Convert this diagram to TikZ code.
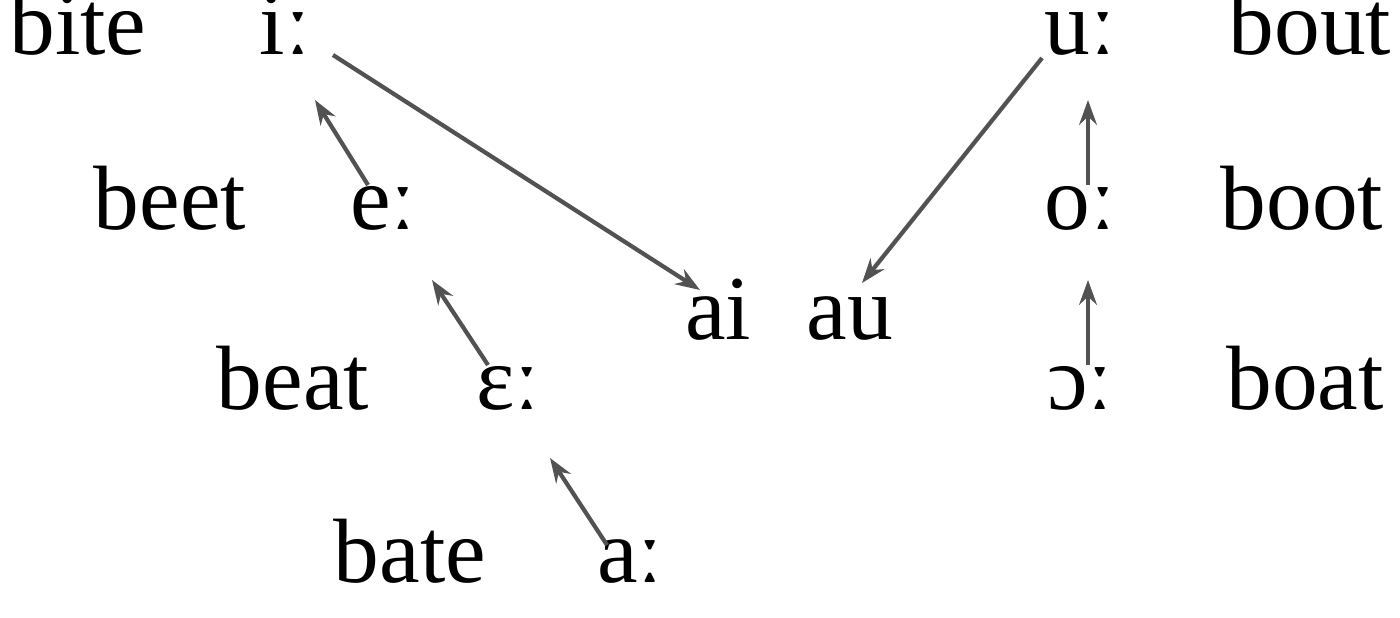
\documentclass[tikz,border=0pt]{standalone}
\usepackage{fontspec}
\setmainfont{Liberation Serif}
\usetikzlibrary{arrows.meta}
\begin{document}
\begin{tikzpicture}[x=0.02cm,y=-0.02cm,
  word/.style={font=\fontsize{52}{56}\selectfont, inner sep=2pt, text height=0.55em, text depth=0em},
  vshift/.style={draw=black!68, line width=2.4pt, -{Stealth[length=14pt,width=10pt]}, shorten >=6pt, shorten <=6pt}]
\useasboundingbox (0,0) rectangle (1400,618);
\node[word] (bite) at (78,50) {bite};
\node[word] (ii) at (285,50) {iː};
\node[word] (beet) at (170,225) {beet};
\node[word] (ee) at (383,225) {eː};
\node[word] (beat) at (293,405) {beat};
\node[word] (eps) at (508,405) {ɛː};
\node[word] (bate) at (410,578) {bate};
\node[word] (aa) at (630,578) {aː};
\node[word] (ai) at (718,335) {ai};
\node[word] (au) at (850,335) {au};
\node[word] (uu) at (1080,50) {uː};
\node[word] (bout) at (1310,50) {bout};
\node[word] (oo) at (1080,225) {oː};
\node[word] (boot) at (1302,225) {boot};
\node[word] (oc) at (1080,405) {ɔː};
\node[word] (boat) at (1305,405) {boat};
\coordinate (o1) at (1088,185);
\coordinate (u1) at (1088,100);
\coordinate (o2) at (1088,365);
\coordinate (u2) at (1088,280);
\coordinate (a1) at (607,545);
\coordinate (e1) at (550,458);
\coordinate (e2) at (488,365);
\coordinate (e3) at (432,280);
\coordinate (e4) at (368,185);
\coordinate (i1) at (315,100);
\coordinate (i2) at (333,55);
\coordinate (ai1) at (700,290);
\coordinate (u3) at (1042,58);
\coordinate (au1) at (862,283);
\draw[vshift, shorten >=0pt, shorten <=0pt] (a1) -- (e1);
\draw[vshift, shorten >=0pt, shorten <=0pt] (e2) -- (e3);
\draw[vshift, shorten >=0pt, shorten <=0pt] (e4) -- (i1);
\draw[vshift, shorten >=0pt, shorten <=0pt] (i2) -- (ai1);
\draw[vshift, shorten >=0pt, shorten <=0pt] (u3) -- (au1);
\draw[vshift, shorten >=0pt, shorten <=0pt] (o1) -- (u1);
\draw[vshift, shorten >=0pt, shorten <=0pt] (o2) -- (u2);
\end{tikzpicture}
\end{document}
